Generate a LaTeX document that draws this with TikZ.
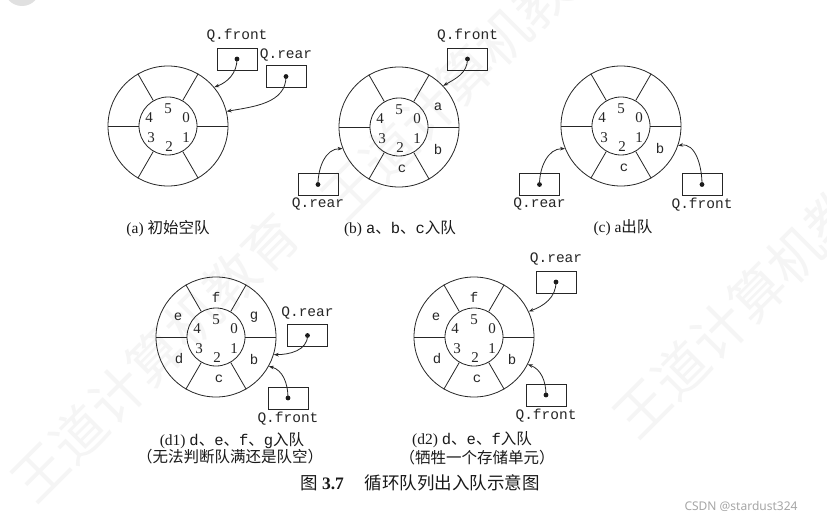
\documentclass[tikz,border=0pt]{standalone}
\usepackage{fontspec}
\setmainfont{Liberation Serif}
\setmonofont{Liberation Mono}
\newfontfamily\cjk{Noto Sans CJK SC}
\newfontfamily\wmfont{Noto Sans}
\usetikzlibrary{arrows.meta,calc,positioning}
\tikzset{
  ink/.style={draw=black!85, line width=0.8pt},
  ring/.style={ink, circle, minimum size=120pt, inner sep=0pt},
  ringin/.style={ink, circle, minimum size=58pt, inner sep=0pt},
  dig/.style={font=\fontsize{15}{15}\selectfont, inner sep=0pt, text=black!85},
  let/.style={font=\ttfamily\fontsize{14}{14}\selectfont, inner sep=0pt, text=black!85},
  qbox/.style={ink, rectangle, minimum width=40pt, minimum height=22pt, inner sep=0pt},
  qlbl/.style={font=\ttfamily\fontsize{14.5}{15}\selectfont, inner sep=1pt, text=black!85},
  ptr/.style={draw=black!85, line width=0.8pt, -{Stealth[length=5pt,width=3.6pt]}},
  capt/.style={font=\fontsize{15.5}{16}\selectfont, inner sep=0pt, text=black!90},
  wmark/.style={font=\cjk\fontsize{54}{54}\selectfont, text=black!4, rotate=45, inner sep=0pt},
}
\newcommand\qring[2]{%
  \node[ring] (#1) at (#2) {};
  \node[ringin] (#1i) at (#2) {};
  \foreach \t in {0,60,...,300} \draw[ink] (#1i.\t) -- (#1.\t);
  \foreach \d/\ox/\oy in {0/18/8, 1/18/-12, 2/1/-21, 3/-17/-12, 4/-19/8, 5/0/17}
    \node[dig] at ($(#1)+(\ox,\oy)$) {\d};
}
\newcommand\cellat[3]{\node[let] at ($(#1)+(#2)$) {#3};}
\begin{document}
\begin{tikzpicture}[x=1pt,y=1pt]
\useasboundingbox (0,0) rectangle (827,523);
\clip (0,0) rectangle (827,523);
\fill[white] (0,0) rectangle (827,523);
% watermarks
\fill[black!12] (22,535) circle[radius=18];
\node[wmark] (wm1) at (155,166) {王道计算机教育};
\node[wmark] (wm2) at (465,448) {王道计算机教育};
\node[wmark] (wm3) at (757,230) {王道计算机教育};

% rings
\qring{ringA}{168,397}
\qring{ringB}{399,396}
\qring{ringC}{621,397}
\qring{ringD}{216,186}
\qring{ringE}{474,186}

% cell contents
\cellat{ringB}{39,20}{a}
\cellat{ringB}{39,-22}{b}
\cellat{ringB}{3,-42}{c}
\cellat{ringC}{39,-22}{b}
\cellat{ringC}{3,-42}{c}
\cellat{ringD}{38,20}{g}
\cellat{ringD}{38,-22}{b}
\cellat{ringD}{3,-42}{c}
\cellat{ringD}{-37,-22}{d}
\cellat{ringD}{-38,20}{e}
\cellat{ringD}{0,40}{f}
\cellat{ringE}{38,-22}{b}
\cellat{ringE}{3,-42}{c}
\cellat{ringE}{-37,-22}{d}
\cellat{ringE}{-38,20}{e}
\cellat{ringE}{0,40}{f}

% pointer boxes
\node[qbox] (aF) at (237,464) {};
\node[qbox] (aR) at (286,446.5) {};
\node[qbox] (bF) at (467.5,464) {};
\node[qbox] (bR) at (318,338.5) {};
\node[qbox] (cR) at (539.5,338.5) {};
\node[qbox] (cF) at (702,338.5) {};
\node[qbox] (dR) at (307.5,187.5) {};
\node[qbox] (dF) at (288,125) {};
\node[qbox] (eR) at (556,241) {};
\node[qbox] (eF) at (546,128) {};
\foreach \b in {aF,aR,bF,bR,cR,cF,dR,dF,eR,eF}
  \fill[black!90] (\b.center) circle[radius=2.4pt];

% labels
\node[qlbl, above=4pt of aF] (laF) {Q.front};
\node[qlbl, above=3pt of aR] (laR) {Q.rear};
\node[qlbl, above=4pt of bF] (lbF) {Q.front};
\node[qlbl, below=1pt of bR] (lbR) {Q.rear};
\node[qlbl, below=1pt of cR] (lcR) {Q.rear};
\node[qlbl, below=1pt of cF] (lcF) {Q.front};
\node[qlbl, above=4pt of dR] (ldR) {Q.rear};
\node[qlbl, below=1pt of dF] (ldF) {Q.front};
\node[qlbl, above=4pt of eR] (leR) {Q.rear};
\node[qlbl, below=1pt of eF] (leF) {Q.front};

% arrows
\draw[ptr] (aF.center) to[out=-90,in=20] (ringA.40);
\draw[ptr] (aR.center) to[out=-90,in=10] (ringA.14);
\draw[ptr] (bF.center) to[out=-90,in=30] (ringB.43);
\draw[ptr] (bR.center) to[out=90,in=180] (ringB.201);
\draw[ptr] (cR.center) to[out=90,in=180] (ringC.202);
\draw[ptr] (cF.center) to[out=90,in=10] (ringC.-19);
\draw[ptr] (dR.center) to[out=-90,in=0] (ringD.-17);
\draw[ptr] (dF.center) to[out=90,in=-15] (ringD.-29);
\draw[ptr] (eR.center) to[out=-90,in=20] (ringE.25);
\draw[ptr] (eF.center) to[out=90,in=-20] (ringE.-27);

% captions
\node[capt] (capA) at (168,294) {(a) {\cjk 初始空队}};
\node[capt] (capB) at (400,294) {(b) {\ttfamily a}{\cjk 、}{\ttfamily b}{\cjk 、}{\ttfamily c}{\cjk 入队}};
\node[capt] (capC) at (623,295) {(c) a{\cjk 出队}};
\node[capt] (capD1) at (232,82) {(d1) {\ttfamily d}{\cjk 、}{\ttfamily e}{\cjk 、}{\ttfamily f}{\cjk 、}{\ttfamily g}{\cjk 入队}};
\node[capt] (capD1b) at (230,66) {\cjk （无法判断队满还是队空）};
\node[capt] (capD2) at (472,83) {(d2) {\ttfamily d}{\cjk 、}{\ttfamily e}{\cjk 、}{\ttfamily f}{\cjk 入队}};
\node[capt] (capD2b) at (477,65) {\cjk （牺牲一个存储单元）};
\node[font=\fontsize{17.5}{18}\selectfont, inner sep=0pt, text=black!90] (fig) at (420,40)
  {{\cjk 图} \textbf{3.7}\hspace{1.2em}{\cjk 循环队列出入队示意图}};
\node[font=\wmfont\fontsize{12}{12}\selectfont, text=black!35, inner sep=0pt] (csdn) at (741,17) {CSDN @stardust324};
\end{tikzpicture}
\end{document}
